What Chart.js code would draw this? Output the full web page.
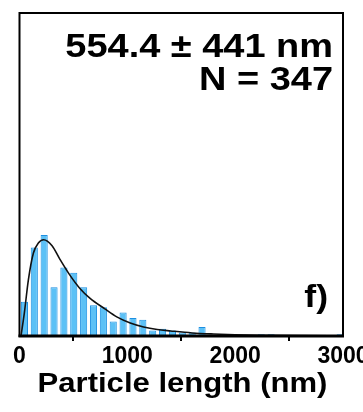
<!DOCTYPE html>
<html>
<head>
<meta charset="utf-8">
<script src="https://cdn.jsdelivr.net/npm/chart.js@4.4.1/dist/chart.umd.min.js"></script>
<style>
  html, body { margin: 0; padding: 0; background: #fff; overflow: hidden; }
  #wrap { position: relative; width: 363px; height: 412px; }
</style>
</head>
<body>
<div id="wrap"><canvas id="chart"></canvas></div>
<script>
// particle length histogram, bins of ~91.5 nm starting at 0
const binWidth = 91.5;
const counts = [19, 49, 56, 27, 38, 35, 27, 17, 16, 8, 13, 10, 9, 3, 4, 3, 2, 2, 5, 0, 0, 1, 0, 0, 1, 1, 0, 0, 0, 0, 0, 0, 1];

// log-normal fit curve (length in nm, count)
const fitX = [14, 45, 82, 129, 175, 223, 302, 370, 464, 558, 652, 792, 902, 1027, 1151, 1277, 1402, 1600, 1800, 2000, 2300, 2600, 3000];
const fitY = [0, 12.8, 31, 46, 51.5, 53.3, 50, 43, 34, 26.5, 21, 15, 10.6, 7.2, 5, 3.6, 2.8, 1.7, 1.1, 0.7, 0.4, 0.2, 0.1];

const xTicks = [0, 1000, 2000, 3000];
const statsLines = ['554.4 \u00b1 441 nm', 'N = 347'];
const panelLabel = 'f)';
const xTitle = 'Particle length (nm)';

const FONT = '"Liberation Sans", Arial, Helvetica, sans-serif';
const WIDE = 1.15; // text in this figure is set a bit wide

const barData = counts.map((c, i) => ({ x: (i + 0.5) * binWidth, y: c }));
const fitData = fitX.map((x, i) => ({ x: x, y: fitY[i] }));

function wideText(ctx, str, x, y, align) {
  ctx.save();
  ctx.translate(x, y);
  ctx.scale(WIDE, 1);
  ctx.textAlign = align;
  ctx.fillText(str, 0, 0);
  ctx.restore();
}

// box around the plot + the free text
const framePlugin = {
  id: 'frame',
  afterDatasetsDraw(chart) {
    const { ctx, chartArea: a } = chart;
    ctx.save();
    ctx.strokeStyle = '#000';
    ctx.lineWidth = 2;
    ctx.strokeRect(a.left, a.top, a.right - a.left, a.bottom - a.top);
    ctx.lineWidth = 3;
    ctx.beginPath();
    ctx.moveTo(a.left - 1, a.bottom);
    ctx.lineTo(a.right + 1, a.bottom);
    ctx.stroke();
    ctx.restore();
  },
  afterDraw(chart) {
    const { ctx } = chart;
    ctx.save();
    ctx.fillStyle = '#000';
    ctx.textBaseline = 'alphabetic';

    ctx.font = 'bold 33px ' + FONT;
    wideText(ctx, statsLines[0], 333, 57, 'right');
    wideText(ctx, statsLines[1], 333, 90, 'right');

    ctx.font = 'bold 31px ' + FONT;
    wideText(ctx, panelLabel, 328, 307, 'right');

    ctx.font = 'bold 27px ' + FONT;
    wideText(ctx, xTitle, 182.5, 392, 'center');
    ctx.restore();
  }
};

new Chart(document.getElementById('chart'), {
  type: 'bar',
  data: {
    datasets: [
      {
        type: 'line',
        data: fitData,
        borderColor: '#111',
        borderWidth: 1.6,
        pointRadius: 0,
        fill: false,
        tension: 0.4,
        cubicInterpolationMode: 'monotone',
        order: 0
      },
      {
        type: 'bar',
        data: barData,
        backgroundColor: '#5CC1F6',
        borderColor: '#1D8FE1',
        borderWidth: 1,
        barPercentage: 0.72,
        categoryPercentage: 1,
        order: 1
      }
    ]
  },
  options: {
    responsive: true,
    maintainAspectRatio: false,
    animation: false,
    layout: { padding: { left: 19.5, right: 20, top: 13, bottom: 38 } },
    plugins: { legend: { display: false }, tooltip: { enabled: false } },
    scales: {
      x: {
        type: 'linear',
        min: 0,
        max: 3000,
        offset: false,
        border: { display: false },
        grid: {
          display: true,
          drawOnChartArea: false,
          drawTicks: true,
          tickLength: 5,
          color: '#000',
          lineWidth: 2
        },
        ticks: {
          color: '#000',
          padding: 2,
          maxRotation: 0,
          autoSkip: false,
          font: { family: FONT, weight: 'bold', size: 23 },
          callback: v => String(v)
        },
        afterBuildTicks(s) { s.ticks = xTicks.map(v => ({ value: v })); },
        afterFit(s) { s.height = 38; s.paddingLeft = 0; s.paddingRight = 0; }
      },
      y: {
        display: false,
        min: 0,
        max: 179
      }
    }
  },
  plugins: [framePlugin]
});
</script>
</body>
</html>
